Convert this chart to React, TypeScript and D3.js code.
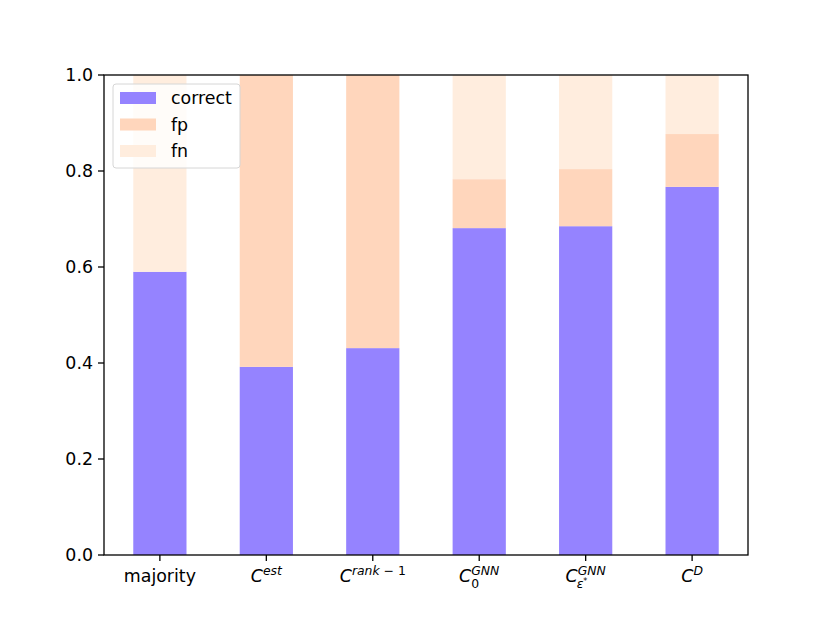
import { scaleLinear } from "d3";

const W = 830;
const H = 623;
const M = { top: 75, right: 82, bottom: 68, left: 104 };

const categories = ["majority", "est", "rank-1", "GNN0", "GNNeps", "D"];
const correct = [0.59, 0.392, 0.431, 0.681, 0.685, 0.767];
const fp = [0.0, 0.608, 0.569, 0.102, 0.119, 0.11];
const fn = [0.41, 0.0, 0.0, 0.217, 0.196, 0.123];
const yTicks = [0, 0.2, 0.4, 0.6, 0.8, 1.0];

const COLORS = { correct: "#9583ff", fp: "#ffd6bc", fn: "#ffedde" };
const FONT = "DejaVu Sans, sans-serif";
const FS = 17.4;
const SS = 12.4;

function Label({ k, cx, base }: { k: string; cx: number; base: number }) {
  const it = { fontStyle: "italic" as const };
  if (k === "majority") return <tspan>majority</tspan>;
  const sup: Record<string, string> = { est: "est", "rank-1": "rank", GNN0: "GNN", GNNeps: "GNN", D: "D" };
  return (
    <>
      <tspan style={it}>C</tspan>
      <tspan style={it} dy={-7} fontSize={SS}>{sup[k]}</tspan>
      {k === "rank-1" && <tspan fontSize={SS}> − 1</tspan>}
      {k === "GNN0" && (
        <tspan x={cx - 8} y={base + 6} fontSize={SS} textAnchor="start">
          0
        </tspan>
      )}
      {k === "GNNeps" && (
        <>
          <tspan x={cx - 9} y={base + 6} fontSize={SS} style={it} textAnchor="start">
            ε
          </tspan>
          <tspan dy={-4} fontSize={8} textAnchor="start">*</tspan>
        </>
      )}
    </>
  );
}

export default function App() {
  const x = scaleLinear().domain([-0.525, 5.525]).range([M.left, W - M.right]);
  const y = scaleLinear().domain([0, 1]).range([H - M.bottom, M.top]);
  const bw = x(0.5) - x(0);
  const rows = categories.map((c, i) => ({
    c,
    cx: x(i),
    segs: [
      { key: "correct", y0: 0, y1: correct[i] },
      { key: "fp", y0: correct[i], y1: correct[i] + fp[i] },
      { key: "fn", y0: correct[i] + fp[i], y1: correct[i] + fp[i] + fn[i] },
    ],
  }));
  const legend = [
    { key: "correct", label: "correct" },
    { key: "fp", label: "fp" },
    { key: "fn", label: "fn" },
  ];
  const base = H - M.bottom + 27;
  return (
    <svg width={W} height={H} style={{ display: "block", margin: "-8px" }} fontFamily={FONT}>
      <rect width={W} height={H} fill="#fff" />
      {rows.map((r) =>
        r.segs.map((s) =>
          s.y1 - s.y0 > 0 ? (
            <rect
              key={r.c + s.key}
              x={r.cx - bw / 2}
              width={bw}
              y={y(s.y1)}
              height={y(s.y0) - y(s.y1)}
              fill={COLORS[s.key as keyof typeof COLORS]}
            />
          ) : null
        )
      )}
      <rect
        x={M.left}
        y={M.top}
        width={W - M.right - M.left}
        height={H - M.bottom - M.top}
        fill="none"
        stroke="#000"
        strokeWidth={1.3}
      />
      {yTicks.map((t) => (
        <g key={t}>
          <line x1={M.left - 6} x2={M.left} y1={y(t)} y2={y(t)} stroke="#000" strokeWidth={1.3} />
          <text x={M.left - 11} y={y(t)} dy="0.36em" textAnchor="end" fontSize={FS}>
            {t.toFixed(1)}
          </text>
        </g>
      ))}
      {rows.map((r) => (
        <g key={r.c}>
          <line x1={r.cx} x2={r.cx} y1={H - M.bottom} y2={H - M.bottom + 6} stroke="#000" strokeWidth={1.3} />
          <text x={r.cx} y={base} textAnchor="middle" fontSize={FS}>
            <Label k={r.c} cx={r.cx} base={base} />
          </text>
        </g>
      ))}
      <g transform={`translate(${M.left + 9},${M.top + 9})`}>
        <rect width={127} height={84} rx={3} fill="#fff" fillOpacity={0.8} stroke="#d6d6d6" />
        {legend.map((l, i) => (
          <g key={l.key} transform={`translate(7,${8 + i * 26.5})`}>
            <rect width={36} height={12} fill={COLORS[l.key as keyof typeof COLORS]} />
            <text x={51} y={6} dy="0.36em" fontSize={FS}>
              {l.label}
            </text>
          </g>
        ))}
      </g>
    </svg>
  );
}
